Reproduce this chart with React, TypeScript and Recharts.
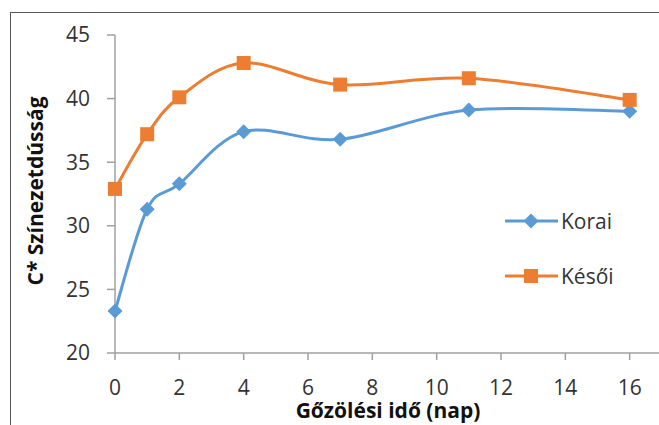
import { LineChart, Line, XAxis, YAxis } from "recharts";

/* ─── data ─── */
const days = [0, 1, 2, 4, 7, 11, 16];
const korai = [23.3, 31.3, 33.3, 37.4, 36.8, 39.1, 39.0];
const kesoi = [32.9, 37.2, 40.1, 42.8, 41.1, 41.6, 39.9];
const xTicks = [0, 2, 4, 6, 8, 10, 12, 14, 16];
const yTicks = [20, 25, 30, 35, 40, 45];

const rows = days.map((d, i) => ({ day: d, korai: korai[i], kesoi: kesoi[i] }));

const BLUE = "#5B9BD5";
const ORANGE = "#ED7D31";
const AXIS = "#A0A0A0";
const FONT = "'Open Sans', sans-serif";

// Excel style smoothed line (cardinal spline, tension 0)
function smoothCurve(ctx: any) {
  let pts: [number, number][] = [];
  return {
    areaStart() {},
    areaEnd() {},
    lineStart() { pts = []; },
    point(x: number, y: number) { pts.push([+x, +y]); },
    lineEnd() {
      if (!pts.length) return;
      ctx.moveTo(pts[0][0], pts[0][1]);
      for (let i = 0; i < pts.length - 1; i++) {
        const p0 = pts[i - 1] ?? pts[i];
        const p1 = pts[i];
        const p2 = pts[i + 1];
        const p3 = pts[i + 2] ?? p2;
        ctx.bezierCurveTo(
          p1[0] + (p2[0] - p0[0]) / 6, p1[1] + (p2[1] - p0[1]) / 6,
          p2[0] - (p3[0] - p1[0]) / 6, p2[1] - (p3[1] - p1[1]) / 6,
          p2[0], p2[1],
        );
      }
    },
  };
}

function Diamond({ cx, cy }: { cx?: number; cy?: number }) {
  if (cx == null || cy == null) return null;
  const r = 7.5;
  return <path d={`M${cx},${cy - r}L${cx + r},${cy}L${cx},${cy + r}L${cx - r},${cy}Z`} fill={BLUE} />;
}

function Square({ cx, cy }: { cx?: number; cy?: number }) {
  if (cx == null || cy == null) return null;
  return <rect x={cx - 7} y={cy - 7} width={14} height={14} fill={ORANGE} />;
}

const tick = { fontSize: 21, fill: "#333", fontFamily: FONT };

export default function App() {
  return (
    <div style={{ position: "absolute", left: 0, top: 0, width: 659, height: 425, overflow: "hidden", background: "#fff" }}>
      <div style={{ position: "absolute", left: 10, top: 12, width: 700, height: 500, borderTop: "1.5px solid #555", borderLeft: "1.5px solid #555" }} />
      <div style={{ position: "absolute", left: 0, top: 0 }}>
        <LineChart width={720} height={425} data={rows} margin={{ top: 35, right: 26, bottom: 0, left: 0 }}>
          <XAxis dataKey="day" type="number" domain={[0, 18]} ticks={xTicks} height={72}
            stroke={AXIS} strokeWidth={1.5} tickSize={7} tickMargin={20} tick={tick} tickLine={{ stroke: AXIS }} />
          <YAxis type="number" domain={[20, 45]} ticks={yTicks} width={115}
            stroke={AXIS} strokeWidth={1.5} tickSize={8} tickMargin={17} tick={tick} tickLine={{ stroke: AXIS }} />
          <Line dataKey="korai" name="Korai" type={smoothCurve as any} stroke={BLUE} strokeWidth={3}
            dot={<Diamond />} activeDot={false} isAnimationActive={false} />
          <Line dataKey="kesoi" name="Késői" type={smoothCurve as any} stroke={ORANGE} strokeWidth={3}
            dot={<Square />} activeDot={false} isAnimationActive={false} />
        </LineChart>
      </div>
      <svg width={659} height={425} style={{ position: "absolute", left: 0, top: 0, pointerEvents: "none" }}>
        <text x={388} y={418} textAnchor="middle" fontFamily={FONT} fontWeight="bold" fontSize={21} fill="#111">
          Gőzölési idő (nap)
        </text>
        <text x={43} y={191} transform="rotate(-90 43 191)" textAnchor="middle" fontFamily={FONT} fontWeight="bold" fontSize={21} fill="#111">
          C* Színezetdússág
        </text>
        {/* legend */}
        <line x1={505} y1={221} x2={558} y2={221} stroke={BLUE} strokeWidth={3} />
        <Diamond cx={531} cy={221} />
        <text x={561} y={228.5} fontFamily={FONT} fontSize={21} fill="#333">Korai</text>
        <line x1={505} y1={276} x2={558} y2={276} stroke={ORANGE} strokeWidth={3} />
        <Square cx={531} cy={276} />
        <text x={561} y={283.5} fontFamily={FONT} fontSize={21} fill="#333">Késői</text>
      </svg>
    </div>
  );
}
